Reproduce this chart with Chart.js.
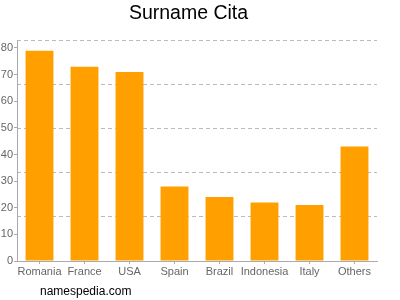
<!DOCTYPE html>
<html>
<head>
<meta charset="utf-8">
<script src="https://cdn.jsdelivr.net/npm/chart.js@4/dist/chart.umd.min.js"></script>
<style>
  body { margin: 0; background: #fff; }
  #wrap { position: relative; width: 400px; height: 300px; }
  #credit {
    position: absolute; left: 40px; top: 284px;
    font: 12px "Liberation Sans", Arial, sans-serif; color: #000; line-height: 14px;
  }
</style>
</head>
<body>
<div id="wrap">
  <canvas id="chart" width="400" height="300"></canvas>
  <div id="credit">namespedia.com</div>
</div>
<script>
// surname counts by country
const countries = ['Romania', 'France', 'USA', 'Spain', 'Brazil', 'Indonesia', 'Italy', 'Others']
const counts = [79, 73, 71, 28, 24, 22, 21, 43]
const yTicks = [0, 10, 20, 30, 40, 50, 60, 70, 80]

const font = '"Liberation Sans", Arial, sans-serif'
const axisGray = '#aaa'

new Chart(document.getElementById('chart'), {
  type: 'bar',
  data: {
    labels: countries,
    datasets: [{
      data: counts,
      backgroundColor: '#ffa000',
      borderWidth: 0,
      barPercentage: 0.62,
      categoryPercentage: 1
    }]
  },
  options: {
    responsive: false,
    animation: false,
    layout: { padding: { left: 0, right: 23, top: 0, bottom: 19 } },
    plugins: {
      legend: { display: false },
      tooltip: { enabled: false },
      title: {
        display: true,
        text: 'Surname Cita',
        color: '#000',
        font: { family: font, size: 19.5, weight: 'normal' },
        padding: { top: 2, bottom: 14.6 }
      }
    },
    scales: {
      x: {
        grid: { display: true, drawOnChartArea: false, offset: false, tickLength: 3, color: axisGray },
        border: { color: axisGray },
        ticks: { color: '#666', padding: 1, font: { family: font, size: 11 }, maxRotation: 0, autoSkip: false },
        afterFit: s => { s.height = 20 }
      },
      y: {
        min: 0,
        max: 83,
        afterBuildTicks: s => { s.ticks = yTicks.map(v => ({ value: v })) },
        grid: { display: true, drawOnChartArea: false, tickLength: 3, color: axisGray },
        border: { color: axisGray },
        ticks: { color: '#666', padding: 1, font: { family: font, size: 11 } },
        afterFit: s => { s.width = 17 }
      },
      // dashed guide lines, spaced independently of the labelled ticks
      yGrid: {
        position: 'right',
        min: 0,
        max: 83,
        ticks: { display: false, count: 6 },
        border: { display: false, dash: [4, 3] },
        grid: { color: '#bbb', drawTicks: false },
        afterFit: s => { s.width = 0 }
      }
    }
  }
})
</script>
</body>
</html>
